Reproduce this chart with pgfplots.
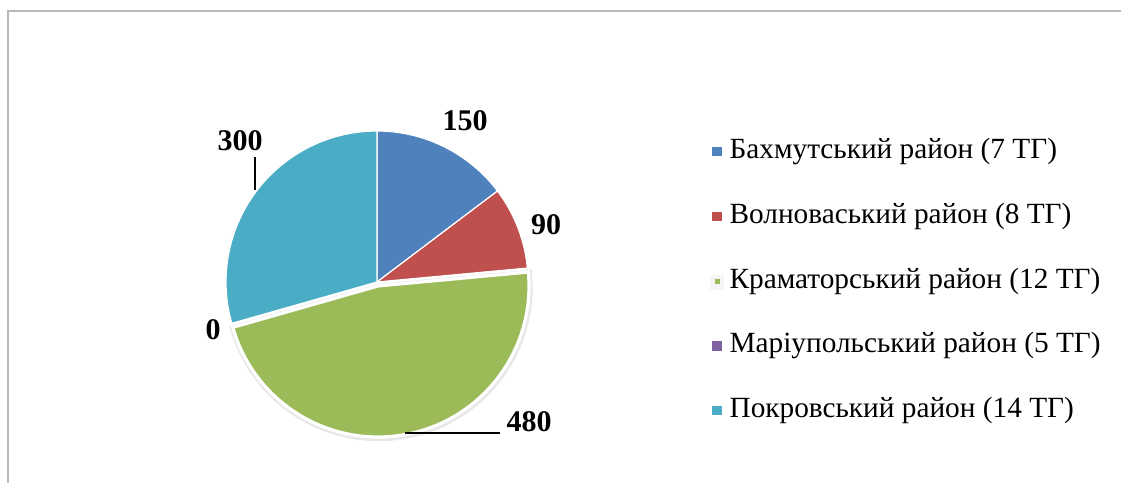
\documentclass[border=0pt]{standalone}
\usepackage{pgfplots}
\pgfplotsset{compat=1.18}
\usepackage{fontspec}
\setmainfont{Liberation Serif}
\definecolor{cBlue}{HTML}{4F81BD}
\definecolor{cRed}{HTML}{C0504D}
\definecolor{cGreen}{HTML}{9BBB59}
\definecolor{cPurple}{HTML}{8064A2}
\definecolor{cCyan}{HTML}{4BACC6}
\begin{document}
\begin{tikzpicture}
\def\tot{1020}
\pgfmathsetmacro\aA{90}
\pgfmathsetmacro\aB{\aA-150/\tot*360}
\pgfmathsetmacro\aC{\aB-90/\tot*360}
\pgfmathsetmacro\aD{\aC-480/\tot*360}
\pgfmathsetmacro\aE{\aD-0/\tot*360}
\pgfmathsetmacro\aF{\aE-300/\tot*360}
\def\R{75.5pt}
\begin{axis}[scale only axis, width=560.5pt, height=241.5pt,
  xmin=0, xmax=1121, ymin=0, ymax=483, hide axis, clip=false,
  legend style={at={(axis cs:710,345)}, anchor=north west, draw=none, fill=none,
    font=\fontsize{14.65}{17}\selectfont, inner sep=0pt,
    nodes={inner sep=0pt, text height=10pt, text depth=3pt},
    row sep=19.4pt,
    /tikz/every odd column/.append style={column sep=3pt}},
  legend cell align=left,
]
\draw[black!28, line width=1pt] (axis cs:1121,472) -- (axis cs:8,472) -- (axis cs:8,0);
% slices
\fill[cBlue, draw=white, line width=0.6pt] (axis cs:377,201) -- ++(\aA:\R) arc[start angle=\aA, end angle=\aB, radius=\R] -- cycle;
\fill[cRed, draw=white, line width=0.6pt] (axis cs:377,201) -- ++(\aB:\R) arc[start angle=\aB, end angle=\aC, radius=\R] -- cycle;
\fill[cCyan, draw=white, line width=0.6pt] (axis cs:377,201) -- ++(\aE:\R) arc[start angle=\aE, end angle=\aF, radius=\R] -- cycle;
% exploded green slice with rim
\fill[black!9, draw=black!9, line width=3.2pt] (axis cs:378.5,196) -- ++(\aC:\R) arc[start angle=\aC, end angle=\aD, radius=\R] -- cycle;
\fill[cGreen, draw=white, line width=1.6pt] (axis cs:378,197) -- ++(\aC:\R) arc[start angle=\aC, end angle=\aD, radius=\R] -- cycle;
% labels
\begin{scope}[every node/.style={font=\bfseries\fontsize{15}{18}\selectfont, inner sep=0pt}]
\node at (axis cs:465,362) {150};
\node at (axis cs:546,258) {90};
\node at (axis cs:529,61) {480};
\node at (axis cs:213,153) {0};
\node at (axis cs:240,342) {300};
\end{scope}
\draw[black, line width=0.8pt] (axis cs:255,326) -- (axis cs:255,293);
\draw[black, line width=0.8pt] (axis cs:405,50) -- (axis cs:500,50);
% legend
\addlegendimage{legend image code/.code={\fill[cBlue] (0pt,-2.1pt) rectangle (4.2pt,2.1pt);}}
\addlegendentry{Бахмутський район (7 ТГ)}
\addlegendimage{legend image code/.code={\fill[cRed] (0pt,-2.1pt) rectangle (4.2pt,2.1pt);}}
\addlegendentry{Волноваський район (8 ТГ)}
\addlegendimage{legend image code/.code={\fill[black!4] (-1pt,-4pt) rectangle (5.2pt,3pt); \fill[cGreen] (1.1pt,-1.2pt) rectangle (3.1pt,0.8pt);}}
\addlegendentry{Краматорський район (12 ТГ)}
\addlegendimage{legend image code/.code={\fill[cPurple] (0pt,-2.1pt) rectangle (4.2pt,2.1pt);}}
\addlegendentry{Маріупольський район (5 ТГ)}
\addlegendimage{legend image code/.code={\fill[cCyan] (0pt,-2.1pt) rectangle (4.2pt,2.1pt);}}
\addlegendentry{Покровський район (14 ТГ)}
\end{axis}
\pgfresetboundingbox
\path (0,0) rectangle (560.5pt,241.5pt);
\end{tikzpicture}
\end{document}
